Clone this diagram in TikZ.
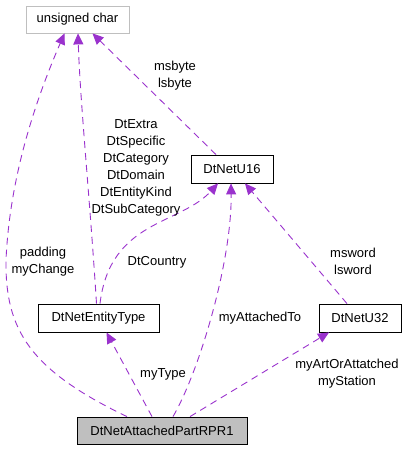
\documentclass[tikz,border=0pt]{standalone}
\usepackage{fontspec}
\setmainfont{Liberation Sans}
\usetikzlibrary{arrows.meta}
\definecolor{edgePurple}{HTML}{9A32CD}
\definecolor{boxGray}{HTML}{BFBFBF}
\definecolor{lineGray}{HTML}{BFBFBF}

\begin{document}
\begin{tikzpicture}[x=1pt,y=-1pt,
  font=\fontsize{13}{17}\selectfont,
  classbox/.style={draw=black, line width=0.8pt, inner sep=0pt},
  usage/.style={edgePurple, dashed, dash pattern=on 7pt off 5pt, line width=0.9pt,
                -{Triangle[length=11pt,width=10pt]}},
  lbl/.style={align=center, inner sep=0pt}]

\useasboundingbox (0,0) rectangle (406,451);

% classes
\node[classbox, draw=lineGray, minimum width=103pt, minimum height=27pt] (ucharBox) at (77.5,19.5) {unsigned char};
\node[classbox, minimum width=82pt, minimum height=28pt] (u16Box) at (232,169) {DtNetU16};
\node[classbox, minimum width=121pt, minimum height=28pt] (entityBox) at (98.5,318) {DtNetEntityType};
\node[classbox, minimum width=82pt, minimum height=28pt] (u32Box) at (360,318) {DtNetU32};
\node[classbox, fill=boxGray, minimum width=170pt, minimum height=27pt] (partBox) at (162,430.5) {DtNetAttachedPartRPR1};

% members -> unsigned char
\draw[usage] ([xshift=-35pt]partBox.north) .. controls (30,370) and (5,330) .. (6,260)
  .. controls (10,170) and (40,90) .. ([xshift=-13pt]ucharBox.south);
\draw[usage] ([xshift=-2pt]entityBox.north) .. controls (90,200) and (80,100) .. ([xshift=0.5pt]ucharBox.south);
\draw[usage] ([xshift=-16pt]u16Box.north) -- ([xshift=15pt]ucharBox.south);

% members -> DtNetU16
\draw[usage] ([xshift=1.5pt]entityBox.north) .. controls (110,220) and (180,225) .. ([xshift=-14pt]u16Box.south);
\draw[usage] ([xshift=11pt]partBox.north) .. controls (200,370) and (232,260) .. ([xshift=-1pt]u16Box.south);
\draw[usage] ([xshift=-13pt]u32Box.north) -- ([xshift=13pt]u16Box.south);

% members -> DtNetEntityType, DtNetU32
\draw[usage] ([xshift=-10pt]partBox.north) -- ([xshift=8pt]entityBox.south);
\draw[usage] ([xshift=28pt]partBox.north) -- ([xshift=-31pt]u32Box.south);

% labels
\node[lbl] (padLbl) at (43,261.5) {padding\\myChange};
\node[lbl] (dtLbl) at (136,167.5) {DtExtra\\DtSpecific\\DtCategory\\DtDomain\\DtEntityKind\\DtSubCategory};
\node[lbl] (byteLbl) at (175,75.5) {msbyte\\lsbyte};
\node[lbl] (countryLbl) at (157,262) {DtCountry};
\node[lbl] (attLbl) at (260,318) {myAttachedTo};
\node[lbl] (wordLbl) at (353,261.5) {msword\\lsword};
\node[lbl] (typeLbl) at (163,374) {myType};
\node[lbl] (stationLbl) at (347,373.5) {myArtOrAttatched\\myStation};
\end{tikzpicture}
\end{document}
